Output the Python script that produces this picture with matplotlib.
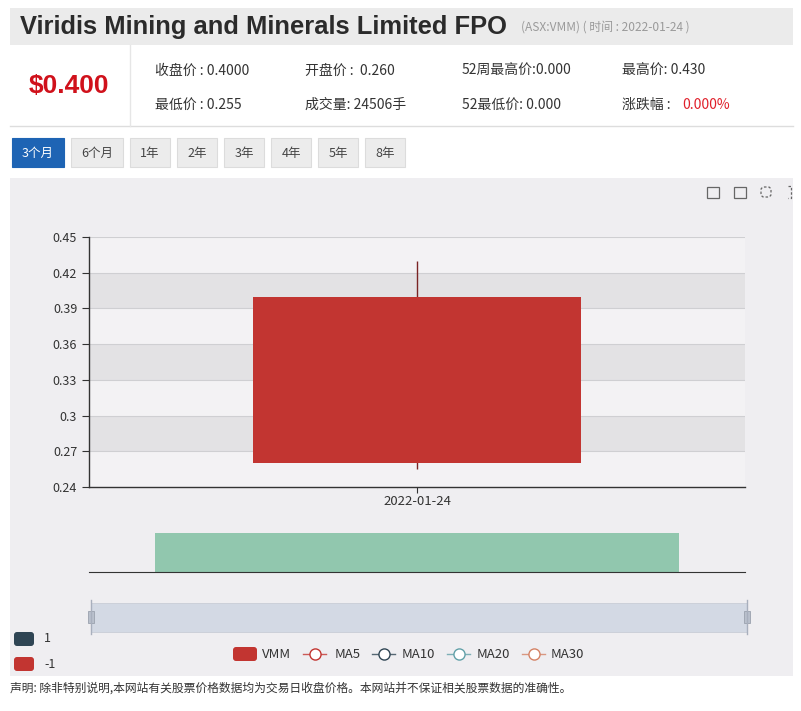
import matplotlib
matplotlib.use('Agg')
import matplotlib.pyplot as plt
from matplotlib.patches import Rectangle, FancyBboxPatch

plt.rcParams['font.family'] = ['Noto Sans CJK SC', 'DejaVu Sans']

# data
dates = ['2022-01-24']
opens = [0.260]
closes = [0.400]
lows = [0.255]
highs = [0.430]
volumes = [24506]
y_ticks = [0.24, 0.27, 0.3, 0.33, 0.36, 0.39, 0.42, 0.45]
y_tick_labels = ['0.24', '0.27', '0.3', '0.33', '0.36', '0.39', '0.42', '0.45']
periods = ['3个月', '6个月', '1年', '2年', '3年', '4年', '5年', '8年']
stats_row1 = ['收盘价 : 0.4000', '开盘价 :  0.260', '52周最高价:0.000', '最高价: 0.430']
stats_row2 = ['最低价 : 0.255', '成交量: 24506手', '52最低价: 0.000', '涨跌幅 : ']
ma_names = ['MA5', 'MA10', 'MA20', 'MA30']
ma_colors = ['#c23531', '#2f4554', '#61a0a8', '#d48265']

W, H = 801, 711
fig = plt.figure(figsize=(W / 100, H / 100), dpi=100)
fig.patch.set_facecolor('white')


def px_axes(x0, y0, x1, y1):
    return fig.add_axes([x0 / W, 1 - y1 / H, (x1 - x0) / W, (y1 - y0) / H])


def fx(x):
    return x / W


def fy(y):
    return 1 - y / H


# background overlay axes for boxes
bg = fig.add_axes([0, 0, 1, 1])
bg.set_xlim(0, W)
bg.set_ylim(H, 0)
bg.axis('off')

# header band
bg.add_patch(Rectangle((10, 8), 783, 37, facecolor='#ebebeb', edgecolor='none'))
bg.plot([10, 793], [126, 126], color='#dddddd', lw=1)
bg.plot([130, 130], [45, 126], color='#e6e6e6', lw=1)

fig.text(fx(20), fy(27), 'Viridis Mining and Minerals Limited FPO', fontsize=18.4,
         fontweight='bold', color='#2b2b2b', va='center', family=['Liberation Sans', 'DejaVu Sans'])
fig.text(fx(521), fy(27), '(ASX:VMM) ( 时间 : 2022-01-24 )', fontsize=8.6,
         color='#9a9a9a', va='center')

fig.text(fx(69), fy(86), '$0.400', fontsize=19, fontweight='bold', color='#d0111b',
         ha='center', va='center', family=['Liberation Sans', 'DejaVu Sans'])

cols = [155, 305, 462, 622]
for x, s in zip(cols, stats_row1):
    fig.text(fx(x), fy(71), s, fontsize=10, color='#333333', va='center')
for x, s in zip(cols, stats_row2):
    fig.text(fx(x), fy(105), s, fontsize=10, color='#333333', va='center')
fig.text(fx(682), fy(105), '0.000%', fontsize=10, color='#e0202b', va='center')

# period buttons
btn_x = [12, 71, 130, 177, 224, 271, 318, 365]
btn_w = [52, 52, 40, 40, 40, 40, 40, 40]
for i, (x, w, lab) in enumerate(zip(btn_x, btn_w, periods)):
    active = i == 0
    bg.add_patch(Rectangle((x, 138), w, 29, facecolor='#1e64b4' if active else '#ececec',
                           edgecolor='#1e64b4' if active else '#dcdcdc', lw=0.8))
    fig.text(fx(x + w / 2), fy(153), lab, fontsize=9, ha='center', va='center',
             color='white' if active else '#444444')

# chart background
bg.add_patch(Rectangle((10, 178), 783, 498, facecolor='#efeef1', edgecolor='none'))

# toolbox icons
for xi in [713, 740]:
    bg.add_patch(Rectangle((xi - 6, 187), 12, 11, fill=False, edgecolor='#666666', lw=0.9))
bg.add_patch(FancyBboxPatch((761, 187), 10, 10, boxstyle='round,pad=0,rounding_size=3',
                            fill=False, edgecolor='#666666', lw=0.9, linestyle=(0, (2, 1.5))))
bg.plot([788, 791, 791, 788], [186, 186, 198, 198], color='#666666', lw=0.9, linestyle=(0, (2, 1.5)))

# main candlestick axes
ax = px_axes(89, 237, 745, 487)
ax.set_facecolor('#f3f2f4')
ax.set_xlim(-1, 1)
ax.set_ylim(0.24, 0.45)
for i in range(len(y_ticks) - 1):
    if i % 2 == 1:
        ax.axhspan(y_ticks[i], y_ticks[i + 1], color='#e3e2e4', zorder=0, lw=0)
for t in y_ticks[1:]:
    ax.axhline(t, color='#cfcfd2', lw=0.8, zorder=1)

for i, d in enumerate(dates):
    ax.vlines(i, lows[i], highs[i], color='#7a2424', lw=1, zorder=2)
    lo, hi = min(opens[i], closes[i]), max(opens[i], closes[i])
    ax.bar(i, hi - lo, bottom=lo, width=1.0, color='#c23531', zorder=3)

ax.set_yticks(y_ticks)
ax.set_yticklabels(y_tick_labels)
ax.set_xticks(range(len(dates)))
ax.set_xticklabels(dates)
ax.tick_params(axis='y', length=5, color='#333333', labelsize=9, labelcolor='#333333')
ax.tick_params(axis='x', length=4, color='#333333', labelsize=9.5, labelcolor='#333333', pad=2)
for s in ['top', 'right']:
    ax.spines[s].set_visible(False)
for s in ['left', 'bottom']:
    ax.spines[s].set_color('#333333')
    ax.spines[s].set_linewidth(1)

# volume axes
vax = px_axes(89, 533, 745, 572)
vax.set_facecolor('none')
vax.set_xlim(-0.5, 0.5)
vax.set_ylim(0, max(volumes))
vax.bar(range(len(volumes)), volumes, width=0.8, color='#91c7ae')
vax.set_xticks([])
vax.set_yticks([])
for s in ['top', 'right', 'left']:
    vax.spines[s].set_visible(False)
vax.spines['bottom'].set_color('#333333')

# data zoom slider
bg.add_patch(Rectangle((91, 603), 656, 29, facecolor='#d3d9e4', edgecolor='#c9cdd6', lw=0.6))
for hx in [91, 747]:
    bg.plot([hx, hx], [600, 634], color='#a8afbd', lw=1)
    bg.add_patch(Rectangle((hx - 3, 611), 6, 12, facecolor='#b9c0cc', edgecolor='#9aa1ae', lw=0.6))

# visual map legend
bg.add_patch(FancyBboxPatch((14, 632), 20, 14, boxstyle='round,pad=0,rounding_size=3',
                            facecolor='#2f4554', edgecolor='none'))
bg.add_patch(FancyBboxPatch((14, 657), 20, 14, boxstyle='round,pad=0,rounding_size=3',
                            facecolor='#c23531', edgecolor='none'))
fig.text(fx(44), fy(639), '1', fontsize=9, color='#333333', va='center')
fig.text(fx(44), fy(664), '-1', fontsize=9, color='#333333', va='center')

# series legend
bg.add_patch(FancyBboxPatch((233, 647), 24, 14, boxstyle='round,pad=0,rounding_size=3',
                            facecolor='#c23531', edgecolor='none'))
fig.text(fx(262), fy(654), 'VMM', fontsize=9.5, color='#333333', va='center')
ma_x = [303, 372, 447, 522]
ma_txt = [335, 402, 477, 551]
for x, tx, name, c in zip(ma_x, ma_txt, ma_names, ma_colors):
    bg.plot([x, x + 23], [654, 654], color=c, lw=1, alpha=0.8)
    bg.plot([x + 11.5], [654], marker='o', ms=8, mfc='white', mec=c, mew=1)
    fig.text(fx(tx), fy(654), name, fontsize=9.5, color='#333333', va='center')

# footer
fig.text(fx(10), fy(688), '声明: 除非特别说明,本网站有关股票价格数据均为交易日收盘价格。本网站并不保证相关股票数据的准确性。',
         fontsize=8.5, color='#333333', va='center')

fig.savefig('out.png', dpi=100)
